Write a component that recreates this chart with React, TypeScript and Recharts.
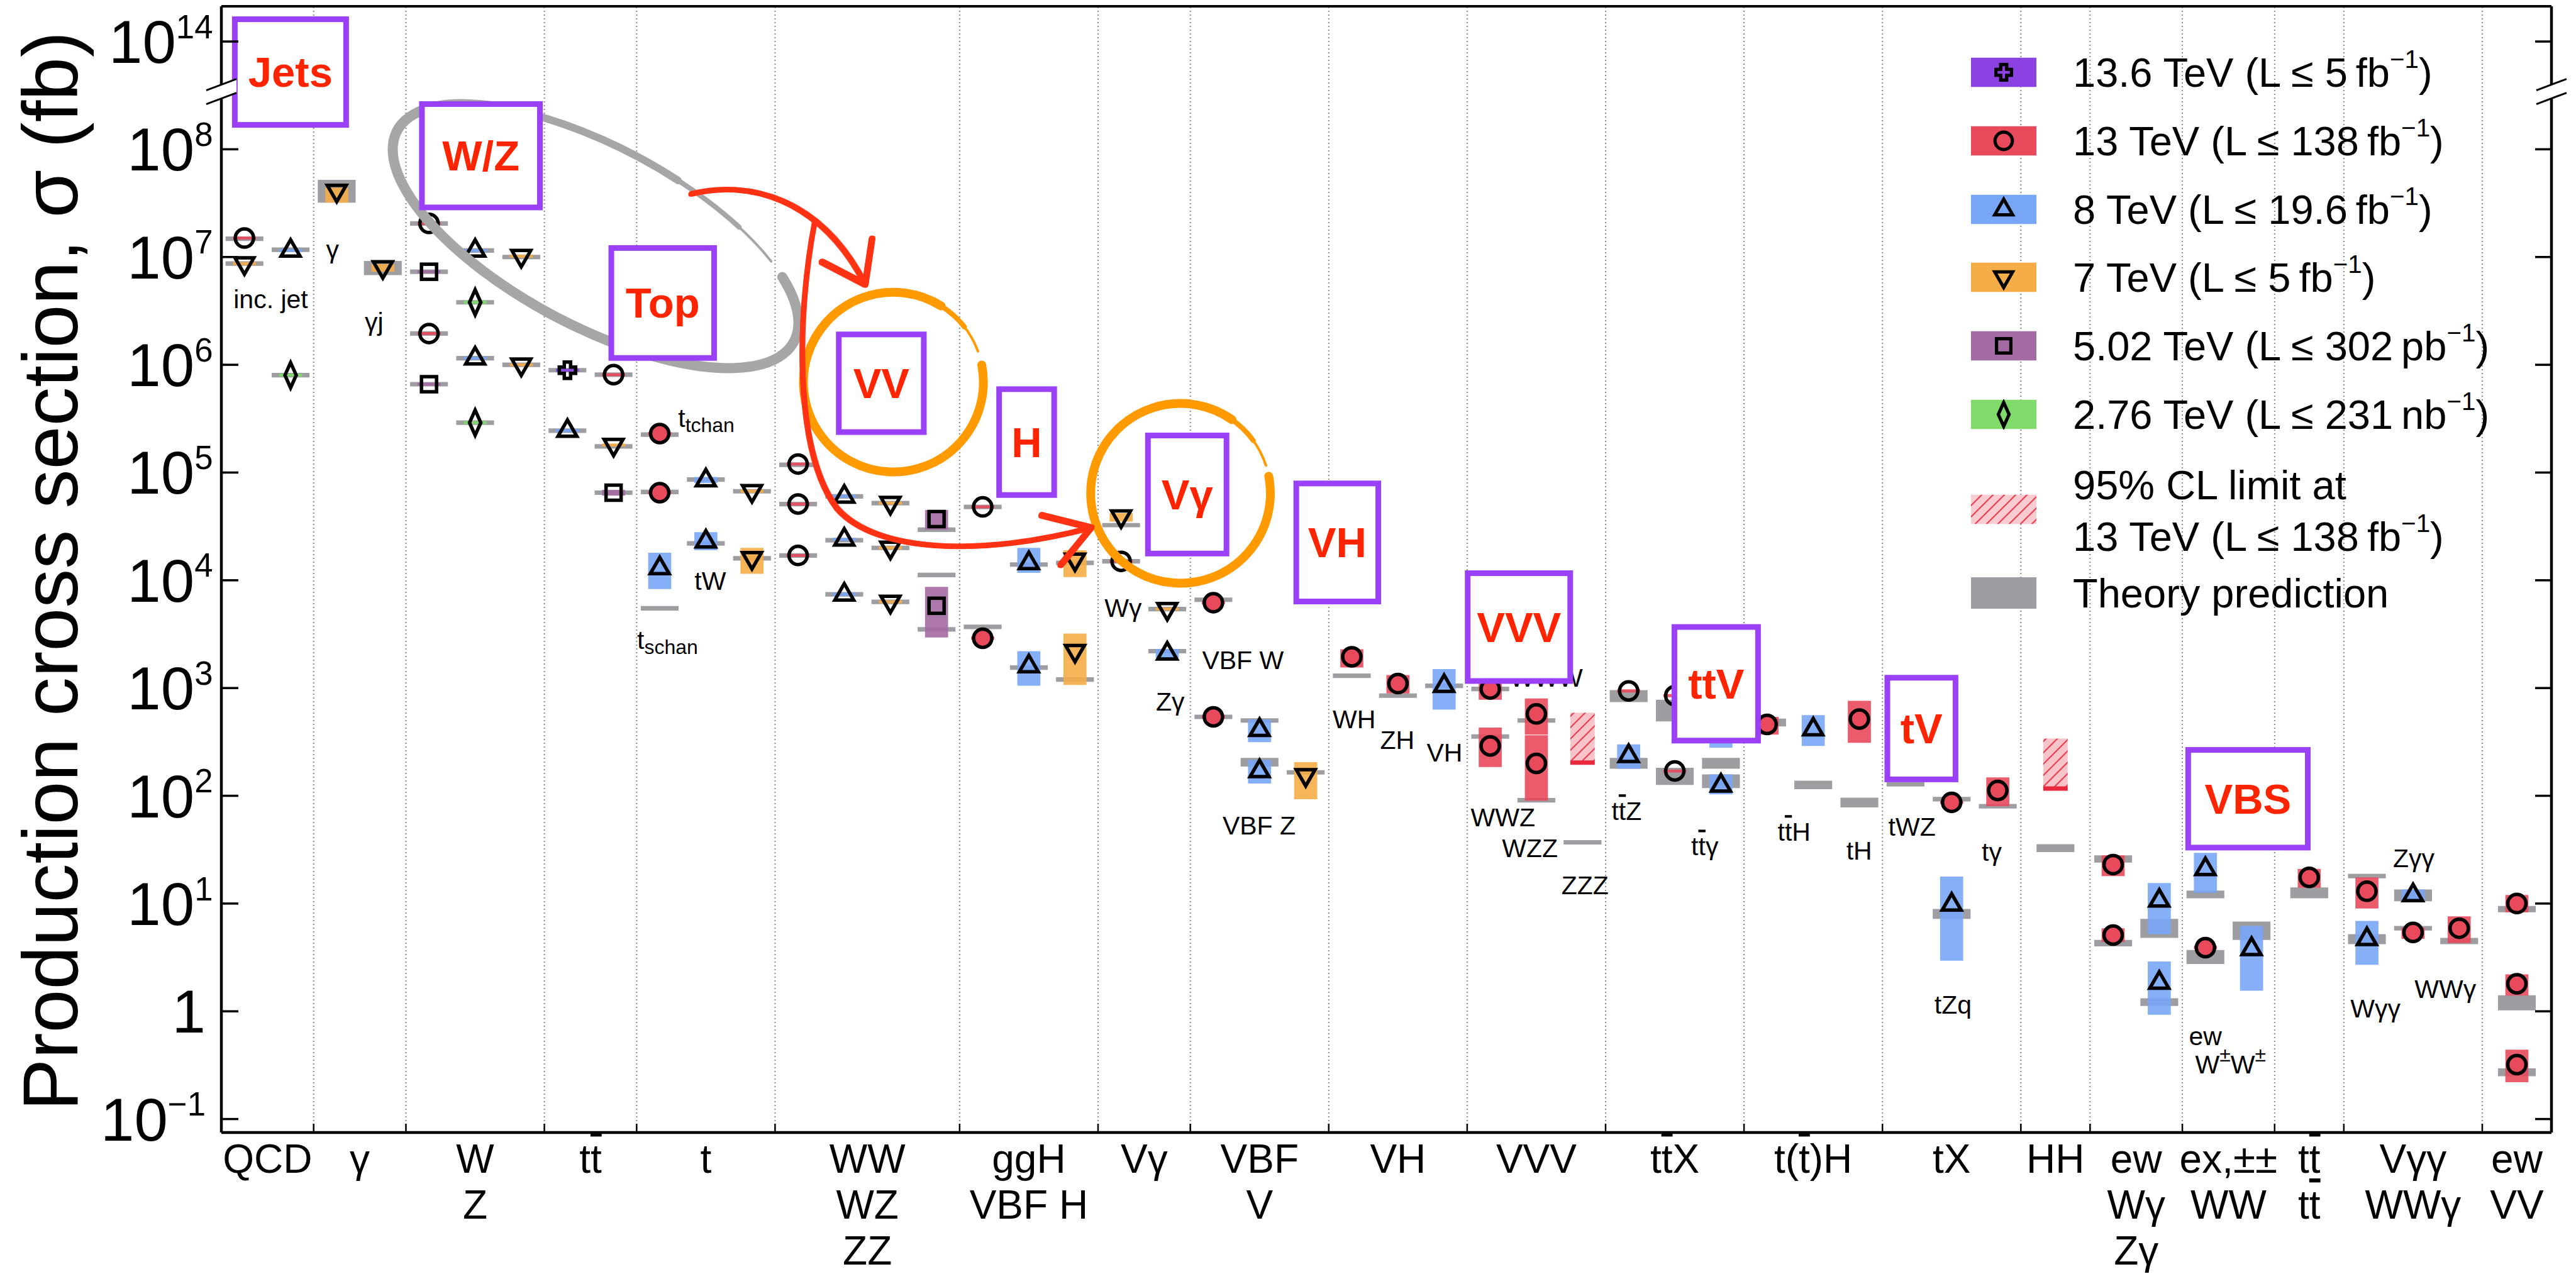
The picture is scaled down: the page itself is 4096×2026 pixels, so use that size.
import React from "react";
import {
  ScatterChart,
  Scatter,
  XAxis,
  YAxis,
  ReferenceArea,
  ReferenceLine,
  ReferenceDot,
  Legend,
} from "recharts";

const W = 4096;
const H = 2026;
const FONT = '"Liberation Sans", Arial, Helvetica, sans-serif';

// x axis is measured in "slots"; process groups sit between these edges
const binEdges = [0, 4, 8, 14, 18, 24, 32, 38, 42, 48, 54, 60, 66, 72, 78, 81, 85, 89, 92, 98, 101];
const categories = [
  "QCD", "γ", "W\nZ", "t~t", "t", "WW\nWZ\nZZ", "ggH\nVBF H", "Vγ", "VBF\nV", "VH",
  "VVV", "t~tX", "t(~t)H", "tX", "HH", "ew\nWγ\nZγ", "ex,±±\nWW", "t~t\nt~t", "Vγγ\nWWγ", "ew\nVV",
];

// y axis in decades; the top tick sits past the axis break
const yTicks = [-1, 0, 1, 2, 3, 4, 5, 6, 7, 8, 9];
const yTickLabels = ["10^{−1}", "1", "10^{1}", "10^{2}", "10^{3}", "10^{4}", "10^{5}", "10^{6}", "10^{7}", "10^{8}", "10^{14}"];

// measurements: [slot, sigma (fb), box low, box high, marker filled]
const run136 = [[15, 8.9e5, 8.6e5, 9.2e5, 0]];
const run13 = [
  [1, 1.5e7, 1.5e7, 1.5e7, 0],
  [9, 2.05e7, 2.05e7, 2.05e7, 0],
  [9, 1.95e6, 1.95e6, 1.95e6, 0],
  [17, 8.1e5, 8.1e5, 8.1e5, 0],
  [19, 2.3e5, 2.3e5, 2.3e5, 1],
  [19, 6.5e4, 6.5e4, 6.5e4, 1],
  [25, 1.2e5, 1.2e5, 1.2e5, 0],
  [25, 5.1e4, 5.1e4, 5.1e4, 0],
  [25, 1.7e4, 1.7e4, 1.7e4, 0],
  [33, 4.8e4, 4.8e4, 4.8e4, 0],
  [33, 2.9e3, 2.9e3, 2.9e3, 1],
  [39, 1.5e4, 1.5e4, 1.5e4, 0],
  [43, 6.2e3, 6.2e3, 6.2e3, 1],
  [43, 540, 540, 540, 1],
  [49, 1950, 1550, 2290, 1],
  [51, 1100, 890, 1320, 1],
  [55, 980, 780, 1150, 1],
  [55, 290, 185, 430, 1],
  [57, 575, 370, 800, 1],
  [57, 200, 90, 365, 1],
  [61, 940, 940, 940, 0],
  [63, 850, 850, 850, 0],
  [63, 170, 170, 170, 0],
  [67, 460, 370, 540, 1],
  [71, 515, 310, 760, 1],
  [75, 87, 87, 87, 1],
  [77, 112, 80, 148, 1],
  [82, 23, 18, 28, 1],
  [82, 5.1, 4.4, 5.9, 1],
  [86, 3.9, 3.9, 3.9, 1],
  [90.5, 17.5, 14, 21, 1],
  [93, 13, 9, 17.5, 1],
  [95, 5.4, 4.7, 6.0, 1],
  [97, 5.9, 4.3, 7.6, 1],
  [99.5, 10, 8.3, 12, 1],
  [99.5, 1.8, 1.4, 2.2, 1],
  [99.5, 0.32, 0.22, 0.44, 1],
];
const run8 = [
  [3, 1.15e7, 1.15e7, 1.15e7, 0],
  [11, 1.15e7, 1.15e7, 1.15e7, 0],
  [11, 1.15e6, 1.15e6, 1.15e6, 0],
  [15, 2.45e5, 2.45e5, 2.45e5, 0],
  [19, 1.3e4, 8.3e3, 1.8e4, 0],
  [21, 8.5e4, 8.0e4, 9.1e4, 0],
  [21, 2.3e4, 1.9e4, 2.8e4, 0],
  [27, 6e4, 6e4, 6e4, 0],
  [27, 2.4e4, 2.4e4, 2.4e4, 0],
  [27, 7.4e3, 7.4e3, 7.4e3, 0],
  [35, 1.45e4, 1.17e4, 2.0e4, 0],
  [35, 1.6e3, 1.05e3, 2.2e3, 0],
  [41, 2.1e3, 1.9e3, 2.3e3, 0],
  [45, 410, 315, 510, 0],
  [45, 170, 130, 215, 0],
  [53, 1050, 630, 1500, 0],
  [61, 235, 178, 300, 0],
  [65, 525, 280, 890, 0],
  [65, 125, 103, 158, 0],
  [69, 415, 290, 560, 0],
  [75, 9.8, 2.95, 17.8, 0],
  [84, 10.7, 5.2, 15.5, 0],
  [84, 1.85, 0.93, 2.9, 0],
  [86, 21, 12.6, 29.5, 0],
  [88, 3.8, 1.55, 6.2, 0],
  [93, 4.7, 2.7, 6.9, 0],
  [95, 12, 10.5, 13.5, 0],
];
const run7 = [
  [1, 8.7e6, 8.7e6, 8.7e6, 0],
  [5, 4.1e7, 3.2e7, 4.4e7, 0],
  [7, 8e6, 7.3e6, 8.6e6, 0],
  [13, 1.02e7, 1.02e7, 1.02e7, 0],
  [13, 1.0e6, 1.0e6, 1.0e6, 0],
  [17, 1.8e5, 1.8e5, 1.8e5, 0],
  [23, 6.7e4, 6.7e4, 6.7e4, 0],
  [23, 1.6e4, 1.15e4, 2.0e4, 0],
  [29, 5.2e4, 5.2e4, 5.2e4, 0],
  [29, 2e4, 2e4, 2e4, 0],
  [29, 6.3e3, 6.3e3, 6.3e3, 0],
  [37, 1.55e4, 1.07e4, 1.9e4, 0],
  [37, 2.2e3, 1.07e3, 3.2e3, 0],
  [39, 3.9e4, 3.5e4, 4.2e4, 0],
  [41, 5.4e3, 5.4e3, 5.4e3, 0],
  [47, 155, 93, 205, 0],
];
const run502 = [
  [9, 7.3e6, 7.3e6, 7.3e6, 0],
  [9, 6.6e5, 6.6e5, 6.6e5, 0],
  [17, 6.5e4, 6.1e4, 6.9e4, 0],
  [31, 3.7e4, 2.95e4, 4.5e4, 0],
  [31, 5.8e3, 2.95e3, 8.7e3, 0],
];
const run276 = [
  [3, 8e5, 8e5, 8e5, 0],
  [11, 3.8e6, 3.8e6, 3.8e6, 0],
  [11, 2.9e5, 2.9e5, 2.9e5, 0],
];

// theory predictions: [slot, low, high] (fb)
const theory = [
  [1, 1.48e7, 1.48e7], [1, 8.7e6, 8.7e6], [3, 1.17e7, 1.17e7], [3, 8e5, 8e5],
  [5, 3.2e7, 5.2e7], [7, 6.8e6, 9.2e6],
  [9, 2.05e7, 2.05e7], [9, 7.3e6, 7.3e6], [9, 1.95e6, 1.95e6], [9, 6.6e5, 6.6e5],
  [11, 1.15e7, 1.15e7], [11, 3.8e6, 3.8e6], [11, 1.15e6, 1.15e6], [11, 2.9e5, 2.9e5],
  [13, 1.0e7, 1.0e7], [13, 1.0e6, 1.0e6],
  [15, 8.9e5, 8.9e5], [15, 2.35e5, 2.55e5],
  [17, 8.1e5, 8.1e5], [17, 1.75e5, 1.75e5], [17, 6.5e4, 6.5e4],
  [19, 2.25e5, 2.25e5], [19, 6.6e4, 6.6e4], [19, 5.5e3, 5.5e3],
  [21, 8.6e4, 8.6e4], [21, 2.1e4, 2.3e4],
  [23, 6.7e4, 6.7e4], [23, 1.6e4, 1.6e4],
  [25, 1.18e5, 1.18e5], [25, 5.1e4, 5.1e4], [25, 1.7e4, 1.7e4],
  [27, 6e4, 6e4], [27, 2.35e4, 2.35e4], [27, 7.4e3, 7.4e3],
  [29, 5.2e4, 5.2e4], [29, 2e4, 2e4], [29, 6.3e3, 6.3e3],
  [31, 2.95e4, 2.95e4], [31, 1.12e4, 1.12e4], [31, 3.5e3, 3.5e3],
  [33, 4.8e4, 4.8e4], [33, 3.7e3, 3.7e3],
  [35, 1.4e4, 1.4e4], [35, 1.55e3, 1.55e3],
  [37, 1.45e4, 1.45e4], [37, 1.2e3, 1.2e3],
  [39, 3.1e4, 3.4e4], [39, 1.5e4, 1.5e4],
  [41, 5.4e3, 5.4e3], [41, 2.2e3, 2.2e3],
  [43, 6.6e3, 6.6e3], [43, 540, 540],
  [45, 500, 500], [45, 187, 225],
  [47, 165, 165],
  [49, 1300, 1300], [51, 850, 850], [53, 1050, 1050],
  [55, 980, 980], [55, 355, 355],
  [57, 500, 500], [57, 91, 91],
  [59, 37, 37],
  [61, 740, 955], [61, 178, 225],
  [63, 490, 780], [63, 126, 182],
  [65, 178, 225], [65, 118, 158],
  [67, 440, 520],
  [69, 115, 138],
  [71, 78, 96],
  [73, 128, 128],
  [75, 93, 93], [75, 7.2, 8.9],
  [77, 80, 80],
  [79.5, 30, 35.5],
  [82, 24, 28], [82, 4.0, 4.6],
  [84, 4.8, 7.2], [84, 1.12, 1.32],
  [86, 11.2, 13.2], [86, 2.75, 3.7],
  [88, 4.6, 6.8],
  [90.5, 11.2, 14.1],
  [93, 18, 18], [93, 4.2, 5.2],
  [95, 10.5, 13.5], [95, 5.9, 5.9],
  [97, 4.2, 4.8],
  [99.5, 8.3, 9.5], [99.5, 1.02, 1.41], [99.5, 0.25, 0.295],
];

// 95% CL limits at 13 TeV: [slot, low, high] (fb)
const limits = [[59, 195, 590], [79.5, 112, 340]];

// process names written next to the points: [text, slot, decade]
const procLabels = [
  ["inc. jet", 2.14, 6.61], ["γ", 4.82, 7.07], ["γj", 6.62, 6.4],
  ["t_{tchan}", 21.02, 5.505], ["tW", 21.19, 3.993], ["t_{schan}", 19.34, 3.445],
  ["Wγ", 39.09, 3.743], ["Zγ", 41.13, 2.872], ["VBF W", 44.28, 3.258], ["VBF Z", 44.98, 1.725],
  ["WH", 49.1, 2.709], ["ZH", 50.97, 2.516], ["VH", 53.02, 2.401],
  ["WWW", 57.43, 3.097], ["WWZ", 55.55, 1.8], ["WZZ", 56.72, 1.511], ["ZZZ", 59.11, 1.168],
  ["t~tZ", 60.91, 1.856], ["t~tγ", 64.3, 1.528], ["t~tH", 68.17, 1.663], ["tH", 70.99, 1.49],
  ["tWZ", 73.28, 1.714], ["tγ", 76.74, 1.475], ["tZq", 75.06, 0.062],
  ["ew", 86.0, -0.234], ["W^{±}W^{±}", 87.09, -0.495],
  ["Zγγ", 95.03, 1.418], ["Wγγ", 93.37, 0.026], ["WWγ", 96.4, 0.208],
];

// highlighted group boxes: [text, slot from, slot to, decade from, decade to]
const groupBoxes = [
  ["Jets", 0.46, 5.53, 8.2, 9.233],
  ["W/Z", 8.57, 13.93, 7.434, 8.446],
  ["Top", 16.78, 21.48, 6.037, 7.11],
  ["VV", 26.64, 30.57, 5.349, 6.308],
  ["H", 33.59, 36.22, 4.765, 5.8],
  ["Vγ", 40.04, 43.69, 4.222, 5.37],
  ["VH", 46.47, 50.27, 3.777, 4.925],
  ["VVV", 53.9, 58.59, 3.039, 4.092],
  ["ttV", 62.86, 66.73, 2.486, 3.593],
  ["tV", 72.09, 75.29, 2.126, 3.122],
  ["VBS", 85.13, 90.56, 1.493, 2.452],
];

const series = [
  { key: "s136", color: "#8c42e0", marker: "cross", points: run136, lumi: ["13.6 TeV (L ≤ 5", "fb"] },
  { key: "s13", color: "#e84a5c", marker: "circle", points: run13, lumi: ["13 TeV (L ≤ 138", "fb"] },
  { key: "s8", color: "#78a6f6", marker: "tri", points: run8, lumi: ["8 TeV (L ≤ 19.6", "fb"] },
  { key: "s7", color: "#f5ad47", marker: "tridown", points: run7, lumi: ["7 TeV (L ≤ 5", "fb"] },
  { key: "s502", color: "#a46aa3", marker: "square", points: run502, lumi: ["5.02 TeV (L ≤ 302", "pb"] },
  { key: "s276", color: "#80db6a", marker: "diamond", points: run276, lumi: ["2.76 TeV (L ≤ 231", "nb"] },
];

const THEORY = "#9d9da2";
const PURPLE = "#9a40f6";
const RED_TXT = "#ff2400";

const lg = (v: number) => Math.log10(v);
const sepTicks = binEdges.slice(1, -1);
const centers = categories.map((_, i) => (binEdges[i] + binEdges[i + 1]) / 2);

function parseRich(s: string) {
  const segs: { text: string; kind: string }[] = [];
  let buf = "";
  let i = 0;
  const flush = () => {
    if (buf) segs.push({ text: buf, kind: "n" });
    buf = "";
  };
  while (i < s.length) {
    const c = s[i];
    if ((c === "_" || c === "^") && s[i + 1] === "{") {
      flush();
      const end = s.indexOf("}", i);
      segs.push({ text: s.slice(i + 2, end), kind: c === "_" ? "sub" : "sup" });
      i = end + 1;
    } else if (c === "~") {
      flush();
      segs.push({ text: s[i + 1], kind: "bar" });
      i += 2;
    } else {
      buf += c;
      i++;
    }
  }
  flush();
  return segs;
}

function Rich({ s, size, small = 0.7, up = 0.42, down = 0.28 }: any) {
  let shift = 0;
  return (
    <>
      {parseRich(s).map((seg, k) => {
        const target = seg.kind === "sub" ? size * down : seg.kind === "sup" ? -size * up : 0;
        const dy = target - shift;
        shift = target;
        const fs = seg.kind === "sub" || seg.kind === "sup" ? size * small : size;
        return (
          <tspan key={k} dy={dy} fontSize={fs} textDecoration={seg.kind === "bar" ? "overline" : undefined}>
            {seg.text}
          </tspan>
        );
      })}
    </>
  );
}

function Marker({ kind, cx, cy, fill, k = 1 }: any) {
  const st = { stroke: "#000", strokeWidth: 5.5 * k, fill, strokeLinejoin: "miter" as const };
  if (kind === "circle") return <circle cx={cx} cy={cy} r={14.5 * k} {...st} />;
  if (kind === "tri") {
    const s = 15 * k;
    return <polygon points={`${cx},${cy - 17 * k} ${cx - s},${cy + 9 * k} ${cx + s},${cy + 9 * k}`} {...st} />;
  }
  if (kind === "tridown") {
    const s = 15 * k;
    return <polygon points={`${cx},${cy + 17 * k} ${cx - s},${cy - 9 * k} ${cx + s},${cy - 9 * k}`} {...st} />;
  }
  if (kind === "square") {
    const s = 12 * k;
    return <rect x={cx - s} y={cy - s} width={2 * s} height={2 * s} {...st} />;
  }
  if (kind === "diamond") {
    return <polygon points={`${cx},${cy - 20 * k} ${cx + 9 * k},${cy} ${cx},${cy + 20 * k} ${cx - 9 * k},${cy}`} {...st} />;
  }
  const a = 5 * k;
  const b = 13 * k;
  const pts = [
    [-a, -b], [a, -b], [a, -a], [b, -a], [b, a], [a, a], [a, b], [-a, b], [-a, a], [-b, a], [-b, -a], [-a, -a],
  ].map(([dx, dy]) => `${cx + dx},${cy + dy}`).join(" ");
  return <polygon points={pts} {...st} />;
}

function XTick(props: any) {
  const { x, y, payload } = props;
  const ci = centers.indexOf(payload.value);
  if (ci < 0) return <line x1={x} x2={x} y1={y} y2={y - 14} stroke="#000" strokeWidth={2.5} />;
  return (
    <g>
      {categories[ci].split("\n").map((ln, i) => (
        <text key={i} x={x} y={y + 64 + i * 73} textAnchor="middle" fontFamily={FONT} fontSize={64} fill="#000">
          <Rich s={ln} size={64} />
        </text>
      ))}
    </g>
  );
}

function TopTick(props: any) {
  const { x, y } = props;
  return <line x1={x} x2={x} y1={y} y2={y + 14} stroke="#000" strokeWidth={2.5} />;
}

function YTick(props: any) {
  const { x, y, payload } = props;
  const i = yTicks.indexOf(payload.value);
  const end = payload.value <= 0 ? x - 25 : x - 13.5;
  return (
    <g>
      <line x1={x} x2={x + 27} y1={y} y2={y} stroke="#000" strokeWidth={3.5} />
      <text x={end} y={y + 34} textAnchor="end" fontFamily={FONT} fontSize={96} fill="#000">
        <Rich s={yTickLabels[i]} size={96} small={0.55} up={0.41} />
      </text>
    </g>
  );
}

function RTick(props: any) {
  const { x, y } = props;
  return <line x1={x} x2={x - 26} y1={y} y2={y} stroke="#000" strokeWidth={3.5} />;
}

function AxisBreak(props: any) {
  const { cx, cy } = props;
  return (
    <g>
      <polygon points={`${cx - 24},${cy - 3} ${cx + 24},${cy - 21} ${cx + 24},${cy + 1} ${cx - 24},${cy + 19}`} fill="#fff" />
      <line x1={cx - 24} y1={cy - 3} x2={cx + 24} y2={cy - 21} stroke="#000" strokeWidth={3} />
      <line x1={cx - 24} y1={cy + 19} x2={cx + 24} y2={cy + 1} stroke="#000" strokeWidth={3} />
    </g>
  );
}

function arcPath(cx: number, cy: number, a: number, b: number, rot: number, t1: number, t2: number) {
  const r = (rot * Math.PI) / 180;
  const pt = (t: number) => {
    const tt = (t * Math.PI) / 180;
    const ex = a * Math.cos(tt);
    const ey = b * Math.sin(tt);
    return [cx + ex * Math.cos(r) - ey * Math.sin(r), cy + ex * Math.sin(r) + ey * Math.cos(r)];
  };
  const [x1, y1] = pt(t1);
  const [x2, y2] = pt(t2);
  const large = t2 - t1 > 180 ? 1 : 0;
  return `M${x1},${y1} A${a},${b} ${rot} ${large} 1 ${x2},${y2}`;
}

// hand-drawn loop: pieces of one ellipse, each [from angle, to angle, stroke width]
const loopShape = (rot: number, pieces: number[][], color: string) => (p: any) => {
  const cx = p.x + p.width / 2;
  const cy = p.y + p.height / 2;
  const a = Math.abs(p.width) / 2;
  const b = Math.abs(p.height) / 2;
  return (
    <g fill="none" stroke={color} strokeLinecap="round">
      {pieces.map(([t1, t2, sw], i) => (
        <path key={i} d={arcPath(cx, cy, a, b, rot, t1, t2)} strokeWidth={sw} />
      ))}
    </g>
  );
};

const arrowShape = (p: any) => {
  const sx = p.width / 760;
  const sy = p.height / 710;
  const shafts = [
    "M30 45 C130 20, 260 50, 340 206",
    "M250 95 C220 250, 210 500, 290 605 C360 685, 550 690, 742 639",
  ];
  const heads = ["M263 166 L340 206 L352 125", "M654 617 L742 639 L688 705"];
  const jitter = [[0, 0, 10], [3, -2.5, 4], [-3, 2.5, 4], [2, 3, 3]];
  return (
    <g transform={`translate(${p.x},${p.y}) scale(${sx},${sy})`} fill="none" stroke="#ff3214" strokeLinecap="round" strokeLinejoin="round">
      {jitter.map(([dx, dy, sw], j) => (
        <g key={j} transform={`translate(${dx},${dy})`} opacity={j === 0 ? 1 : 0.8}>
          {shafts.map((d, i) => <path key={`s${i}`} d={d} strokeWidth={sw} />)}
          {heads.map((d, i) => <path key={`h${i}`} d={d} strokeWidth={sw + 2} />)}
        </g>
      ))}
    </g>
  );
};

const groupBoxShape = (label: string) => (p: any) => (
  <g>
    <rect x={p.x + 4.5} y={p.y + 4.5} width={p.width - 9} height={p.height - 9} fill="#fff" stroke={PURPLE} strokeWidth={9} />
    <text x={p.x + p.width / 2} y={p.y + p.height / 2} textAnchor="middle" dominantBaseline="central" fontFamily={FONT} fontWeight="bold" fontSize={67} fill={RED_TXT}>
      {label}
    </text>
  </g>
);

const limitShape = (p: any) => (
  <g>
    <rect x={p.x} y={p.y} width={p.width} height={p.height} fill="url(#hatch)" />
    <line x1={p.x} x2={p.x + p.width} y1={p.y + p.height - 3} y2={p.y + p.height - 3} stroke="#e8283c" strokeWidth={7} />
  </g>
);

const legendRowY = [115, 224, 333, 441, 550, 659];

function LegendBox() {
  return (
    <div style={{ position: "absolute", left: 0, top: 0, width: W, height: H, pointerEvents: "none", fontFamily: FONT, color: "#000" }}>
      {series.map((s, i) => (
        <React.Fragment key={s.key}>
          <svg style={{ position: "absolute", left: 3134, top: legendRowY[i] - 24 }} width={104} height={48}>
            <rect x={0} y={0.75} width={104} height={46.5} fill={s.color} />
            <Marker kind={s.marker} cx={52} cy={24} fill="none" k={0.95} />
          </svg>
          <div style={{ position: "absolute", left: 3296, top: legendRowY[i] - 32.5, fontSize: 65, lineHeight: "65px", whiteSpace: "nowrap" }}>
            {s.lumi[0]}
            {"\u2009"}
            {s.lumi[1]}
            <span style={{ fontSize: "0.62em", position: "relative", top: "-0.72em" }}>−1</span>)
          </div>
        </React.Fragment>
      ))}
      <svg style={{ position: "absolute", left: 3134, top: 810 - 24 }} width={104} height={48}>
        <defs>
          <pattern id="hatchLeg" patternUnits="userSpaceOnUse" width="18" height="18">
            <rect width="18" height="18" fill="#f8ccd0" />
            <path d="M-4.5,4.5 l9,-9 M0,18 l18,-18 M13.5,22.5 l9,-9" stroke="#e8404f" strokeWidth="2.2" />
          </pattern>
        </defs>
        <rect x={0} y={0.75} width={104} height={46.5} fill="url(#hatchLeg)" />
      </svg>
      <div style={{ position: "absolute", left: 3296, top: 763 - 32.5, fontSize: 65, lineHeight: "82px", whiteSpace: "nowrap" }}>
        95% CL limit at
        <br />
        13 TeV (L ≤ 138{"\u2009"}fb<span style={{ fontSize: "0.62em", position: "relative", top: "-0.72em" }}>−1</span>)
      </div>
      <svg style={{ position: "absolute", left: 3134, top: 943 - 25 }} width={104} height={50}>
        <rect x={0} y={0} width={104} height={50} fill={THEORY} />
      </svg>
      <div style={{ position: "absolute", left: 3296, top: 943 - 32.5, fontSize: 65, lineHeight: "65px", whiteSpace: "nowrap" }}>
        Theory prediction
      </div>
    </div>
  );
}

export default function App() {
  const theoryAreas = theory.map(([x, lo, hi], i) => {
    let y1 = lg(lo);
    let y2 = lg(hi);
    if (y2 - y1 < 0.04) {
      const c = (y1 + y2) / 2;
      y1 = c - 0.021;
      y2 = c + 0.021;
    }
    return <ReferenceArea key={`t${i}`} x1={x - 0.82} x2={x + 0.82} y1={y1} y2={y2} fill={THEORY} fillOpacity={1} stroke="none" zIndex={100} />;
  });

  const boxAreas = series.flatMap((s) =>
    s.points.map(([x, v, lo, hi], i) => {
      let y1 = lg(lo);
      let y2 = lg(hi);
      if (y2 - y1 < 0.03) {
        y1 = lg(v) - 0.014;
        y2 = lg(v) + 0.014;
      }
      return <ReferenceArea key={`b${s.key}${i}`} x1={x - 0.5} x2={x + 0.5} y1={y1} y2={y2} fill={s.color} fillOpacity={0.9} stroke="none" zIndex={110} />;
    })
  );

  return (
    <div style={{ position: "absolute", left: 0, top: 0, width: W, height: H, background: "#fff" }}>
      <ScatterChart width={W} height={H} margin={{ top: 0, right: 0, bottom: 0, left: 0 }}>
        <defs>
          <pattern id="hatch" patternUnits="userSpaceOnUse" width="18" height="18">
            <rect width="18" height="18" fill="#f8c4c9" />
            <path d="M-4.5,4.5 l9,-9 M0,18 l18,-18 M13.5,22.5 l9,-9" stroke="#e8404f" strokeWidth="2.2" />
          </pattern>
        </defs>
        <XAxis
          xAxisId={0}
          type="number"
          dataKey="x"
          domain={[0, 101]}
          ticks={[...centers, ...sepTicks]}
          interval={0}
          tick={(p: any) => <XTick {...p} />}
          tickLine={false}
          tickSize={0}
          tickMargin={0}
          height={225}
          axisLine={{ stroke: "#000", strokeWidth: 4.5 }}
          allowDataOverflow
        />
        <XAxis
          xAxisId="top"
          orientation="top"
          type="number"
          domain={[0, 101]}
          ticks={sepTicks}
          interval={0}
          tick={(p: any) => <TopTick {...p} />}
          tickLine={false}
          tickSize={0}
          tickMargin={0}
          height={10}
          axisLine={{ stroke: "#000", strokeWidth: 4 }}
          allowDataOverflow
        />
        <YAxis
          yAxisId={0}
          type="number"
          dataKey="y"
          domain={[-1.125, 9.327]}
          ticks={yTicks}
          interval={0}
          tick={(p: any) => <YTick {...p} />}
          tickLine={false}
          tickSize={0}
          tickMargin={0}
          width={352}
          axisLine={{ stroke: "#000", strokeWidth: 4.5 }}
          allowDataOverflow
          label={() => (
            <text x={123} y={908} transform="rotate(-90 123 908)" textAnchor="middle" fontFamily={FONT} fontSize={124} fill="#000">
              Production cross section, σ (fb)
            </text>
          )}
        />
        <YAxis
          yAxisId="right"
          orientation="right"
          type="number"
          domain={[-1.125, 9.327]}
          ticks={yTicks}
          interval={0}
          tick={(p: any) => <RTick {...p} />}
          tickLine={false}
          tickSize={0}
          tickMargin={0}
          width={39}
          axisLine={{ stroke: "#000", strokeWidth: 4.5 }}
          allowDataOverflow
        />

        {sepTicks.map((s) => (
          <ReferenceLine key={`sep${s}`} x={s} stroke="#8a8a8a" strokeWidth={2} strokeDasharray="2 4" zIndex={50} />
        ))}

        {theoryAreas}
        {boxAreas}
        {limits.map(([x, lo, hi], i) => (
          <ReferenceArea key={`l${i}`} x1={x - 0.53} x2={x + 0.53} y1={lg(lo)} y2={lg(hi)} shape={limitShape} zIndex={120} />
        ))}

        {series.map((s) => (
          <Scatter
            key={s.key}
            name={s.key}
            data={s.points.map(([x, v, , , f]) => ({ x, y: lg(v), filled: f }))}
            isAnimationActive={false}
            zIndex={600}
            shape={(p: any) => <Marker kind={s.marker} cx={p.cx} cy={p.cy} fill={p.payload && p.payload.filled ? s.color : "none"} />}
          />
        ))}

        {procLabels.map(([t, x, y], i) => (
          <ReferenceDot
            key={`pl${i}`}
            x={x as number}
            y={y as number}
            r={0}
            zIndex={700}
            shape={(p: any) => (
              <text x={p.cx} y={p.cy} textAnchor="middle" dominantBaseline="central" fontFamily={FONT} fontSize={41} fill="#000">
                <Rich s={t} size={41} small={0.78} down={0.28} up={0.4} />
              </text>
            )}
          />
        ))}

        <ReferenceArea
          x1={6.48}
          x2={25.96}
          y1={6.36}
          y2={8.028}
          shape={loopShape(28, [[-35, 240, 16], [238, 282, 12], [280, 303, 8], [301, 318, 4]], "#a6a6a6")}
          zIndex={1500}
          ifOverflow="visible"
        />
        <ReferenceArea
          x1={25.23}
          x2={33.03}
          y1={5.005}
          y2={6.673}
          shape={loopShape(0, [[-11, 302, 14], [300, 322, 8], [320, 340, 4]], "#ff9a00")}
          zIndex={1500}
          ifOverflow="visible"
        />
        <ReferenceArea
          x1={37.68}
          x2={45.47}
          y1={3.973}
          y2={5.641}
          shape={loopShape(0, [[-11, 305, 14], [303, 324, 8], [322, 342, 4]], "#ff9a00")}
          zIndex={1500}
          ifOverflow="visible"
        />

        {groupBoxes.map(([t, x1, x2, y1, y2]) => (
          <ReferenceArea
            key={`g${t}`}
            x1={x1 as number}
            x2={x2 as number}
            y1={y1 as number}
            y2={y2 as number}
            shape={groupBoxShape(t as string)}
            zIndex={1550}
            ifOverflow="visible"
          />
        ))}

        <ReferenceArea x1={19.63} x2={38.14} y1={4.118} y2={7.82} shape={arrowShape} zIndex={1600} ifOverflow="visible" />

        <ReferenceDot x={0} y={8.53} r={0} shape={(p: any) => <AxisBreak {...p} />} zIndex={1700} ifOverflow="visible" />
        <ReferenceDot x={101} y={8.53} r={0} shape={(p: any) => <AxisBreak {...p} />} zIndex={1700} ifOverflow="visible" />

        <Legend layout="vertical" align="center" verticalAlign="middle" wrapperStyle={{ position: "absolute", left: 0, top: 0, width: W, height: H }} content={() => <LegendBox />} />
      </ScatterChart>
    </div>
  );
}
